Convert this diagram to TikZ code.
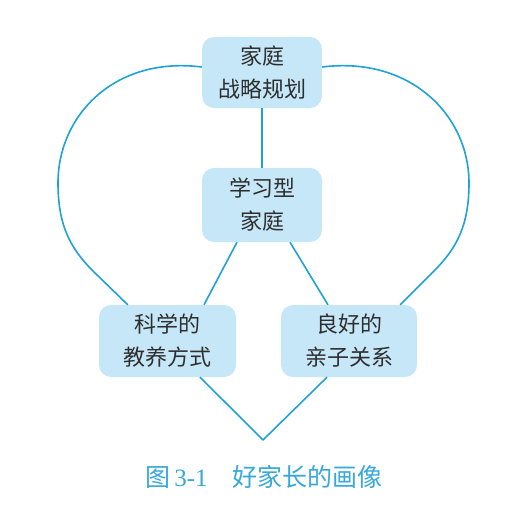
\documentclass[tikz,border=0pt]{standalone}
\usepackage{fontspec}
\newfontfamily\cjk{Noto Sans CJK SC}
\newfontfamily\numfont{Liberation Serif}
\usetikzlibrary{calc}
\definecolor{linec}{HTML}{1FA2D6}
\definecolor{boxc}{HTML}{C6E7F8}
\definecolor{capc}{HTML}{36A8DA}
\definecolor{txtc}{HTML}{2E2E2E}
\begin{document}
\begin{tikzpicture}[x=1pt,y=-1pt,
  box/.style={fill=boxc, rounded corners=12pt, inner sep=0pt, align=center,
    text=txtc, font=\cjk\fontsize{22}{33}\selectfont},
  conn/.style={draw=linec, line width=1.6pt, line join=round}]
\useasboundingbox (0,0) rectangle (520,520);
\node[box, minimum width=120pt, minimum height=71pt] (top) at (262,72.5) {家庭\\战略规划};
\node[box, minimum width=120pt, minimum height=74pt] (mid) at (262,205) {学习型\\家庭};
\node[box, minimum width=137pt, minimum height=72pt] (lb) at (167.5,341) {科学的\\教养方式};
\node[box, minimum width=136pt, minimum height=72pt] (rb) at (349,341) {良好的\\亲子关系};
\coordinate (apex) at (263,440);
% inner connectors
\draw[conn] (top.south) -- (mid.north);
\draw[conn] ($(mid.south)+(-25,0)$) -- ($(lb.north)+(36.5,0)$);
\draw[conn] ($(mid.south)+(28,0)$) -- ($(rb.north)+(-21,0)$);
% bottom V
\draw[conn] ($(lb.south)+(32.5,0)$) -- (apex) -- ($(rb.south)+(-22,0)$);
% heart curves
\draw[conn] ($(top.west)+(0,-5.5)$) .. controls (115,56) and (58,115) .. (58,183)
  .. controls (58,225) and (70,248) .. (93,271) -- ($(lb.north west)+(29,0)$);
\draw[conn] ($(top.east)+(0,-5.5)$) .. controls (410,56) and (469,115) .. (469,183)
  .. controls (469,225) and (457,248) .. (434,271) -- ($(rb.north east)+(-17,0)$);
% caption
\node[text=capc, font=\cjk\fontsize{25}{28}\selectfont, inner sep=0pt] (cap) at (264,477)
  {图\,{\numfont 3-1}\hspace{1em}好家长的画像};
\end{tikzpicture}
\end{document}
